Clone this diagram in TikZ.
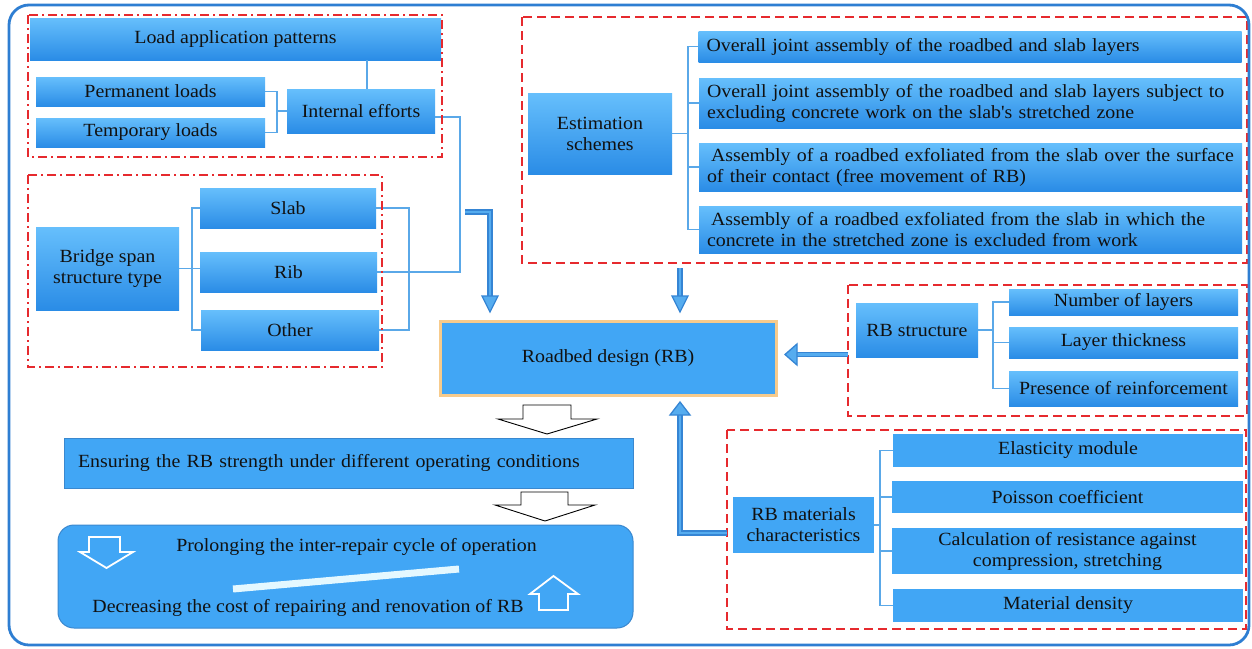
\documentclass[tikz,border=0pt]{standalone}
\usepackage{fontspec}
\setmainfont{Liberation Serif}[FakeStretch=1.07, Ligatures=TeXOff]
\definecolor{framec}{HTML}{2E7ED2}
\definecolor{boxtop}{HTML}{66BFFC}
\definecolor{boxbot}{HTML}{2A8CE6}
\definecolor{boxflat}{HTML}{41A6F5}
\definecolor{brkc}{HTML}{5AA8E8}
\definecolor{redc}{HTML}{E62A2E}
\definecolor{arrc}{HTML}{3585D4}
\definecolor{arrin}{HTML}{55ACEF}
\definecolor{rbedge}{HTML}{F7CB8C}
\definecolor{botedge}{HTML}{3A88CF}
\definecolor{barc}{HTML}{E4F8FF}
\definecolor{txt}{HTML}{111111}
\begin{document}
\begin{tikzpicture}[x=1pt,y=-1pt,
  every node/.style={font=\fontsize{18.6}{21}\selectfont, text=txt},
  gbox/.style={top color=boxtop, bottom color=boxbot, draw=none, inner sep=0pt, align=center},
  flatbox/.style={fill=boxflat, draw=none, inner sep=0pt, align=center},
  lbox/.style={top color=boxtop, bottom color=boxbot, draw=none, inner xsep=8pt, inner ysep=0pt, align=left, text width=527pt},
  brk/.style={draw=brkc, line width=1.8pt},
  grpdash/.style={draw=redc, line width=2.2pt, dash pattern=on 9pt off 5pt},
  grpdd/.style={draw=redc, line width=2.2pt, dash pattern=on 9pt off 4pt on 2pt off 4pt},
  barrow/.style={draw=arrc, double=arrin, double distance=2.6pt, line width=1.3pt},
  bhead/.style={fill=arrin, draw=arrc, line width=1.3pt, line join=miter},
  hollow/.style={fill=white, draw=black, line width=0.9pt, line join=miter},
  whollow/.style={draw=white, line width=1.8pt, line join=miter}]
\useasboundingbox (0,0) rectangle (1252,648);
\fill[white] (0,0) rectangle (1252,648);

% ---------- group 1 ----------
\node[gbox, minimum width=411pt, minimum height=42pt] (lap) at (235.5,39) {Load application patterns};
\node[gbox, minimum width=229pt, minimum height=29pt] (perm) at (150.5,91.5) {Permanent loads};
\node[gbox, minimum width=229pt, minimum height=29pt] (temp) at (150.5,132.5) {Temporary loads};
\node[gbox, minimum width=148pt, minimum height=44pt] (ie) at (361,111) {Internal efforts};

% ---------- group 2 ----------
\node[gbox, minimum width=143pt, minimum height=83pt] (bst) at (107.5,268.5) {Bridge span\\structure type};
\node[gbox, minimum width=176pt, minimum height=40pt] (slab) at (288,208) {Slab};
\node[gbox, minimum width=177pt, minimum height=40pt] (rib) at (288.5,272) {Rib};
\node[gbox, minimum width=178pt, minimum height=40pt] (other) at (290,330) {Other};

% ---------- estimation ----------
\node[gbox, minimum width=144pt, minimum height=81pt] (es) at (600,133.5) {Estimation\\schemes};
\node[lbox, minimum height=31pt] (e1) at (970,46.5) {Overall joint assembly of the roadbed and slab layers};
\node[lbox, minimum height=50pt] (e2) at (970.5,103) {Overall joint assembly of the roadbed and slab layers subject to\\excluding concrete work on the slab's stretched zone};
\node[lbox, minimum height=48pt] (e3) at (970.5,167) {\hspace{4pt}Assembly of a roadbed exfoliated from the slab over the surface\\of their contact (free movement of RB)};
\node[lbox, minimum height=47pt] (e4) at (970.5,229.5) {\hspace{4pt}Assembly of a roadbed exfoliated from the slab in which the\\concrete in the stretched zone is excluded from work};

% ---------- RB structure ----------
\node[gbox, minimum width=122pt, minimum height=54pt] (rbs) at (917,330) {RB structure};
\node[gbox, minimum width=229pt, minimum height=26pt] (n1) at (1123.5,302) {Number of layers};
\node[gbox, minimum width=229pt, minimum height=31pt] (n2) at (1123.5,342.5) {Layer thickness};
\node[gbox, minimum width=229pt, minimum height=35pt] (n3) at (1123.5,388.5) {Presence of reinforcement};

% ---------- RB materials ----------
\node[flatbox, minimum width=141pt, minimum height=56pt] (rbm) at (803.5,525) {RB materials\\characteristics};
\node[flatbox, minimum width=350pt, minimum height=33pt] (m1) at (1068,450.5) {Elasticity module};
\node[flatbox, minimum width=351pt, minimum height=32pt] (m2) at (1067.5,497) {Poisson coefficient};
\node[flatbox, minimum width=351pt, minimum height=46pt] (m3) at (1067.5,551) {Calculation of resistance against\\compression, stretching};
\node[flatbox, minimum width=350pt, minimum height=33pt] (m4) at (1068,605.5) {Material density};

% ---------- centre ----------
\node[flatbox, draw=rbedge, line width=3pt, minimum width=336pt, minimum height=74pt] (rb) at (608,358) {Roadbed design (RB)};
\node[flatbox, draw=botedge, line width=0.6pt, minimum width=569pt, minimum height=50pt, inner xsep=14pt, text width=541pt, align=left] (ens) at (348.5,463) {Ensuring the RB strength under different operating conditions};
\node[flatbox, draw=botedge, line width=1pt, rounded corners=16pt, minimum width=575pt, minimum height=103pt] (bot) at (345.5,576.5) {};
\node (pro) at (356.5,547) {Prolonging the inter-repair cycle of operation};
\node (dec) at (308,608) {Decreasing the cost of repairing and renovation of RB};
\draw[line width=7pt, barc] (233,589) -- (459,569);

% ---------- brackets / connectors ----------
\coordinate (iee) at (435,117);
\coordinate (ribj) at (460,272);
\coordinate (rj) at (409,208);
\draw[brk] ([xshift=6pt]ie.north) -- ([xshift=6pt]ie.north |- lap.south);
\draw[brk] (perm.east) -- ++(12,0) |- (temp.east);
\draw[brk] (ie.west) -- ++(-10,0);
\draw[brk] (slab.west) -- ++(-8,0) |- (other.west);
\draw[brk] (bst.east) -- (bst.east -| rib.west);
\draw[brk] (slab.east) -- (rj) |- (other.east);
\draw[brk] (rib.east) -- (ribj) |- (iee);
\draw[brk] (e1.west) -- ++(-10,0) |- (e4.west);
\draw[brk] (e2.west) -- ++(-10,0);
\draw[brk] (e3.west) -- ++(-10,0);
\draw[brk] (es.east) -- ++(16,0);
\draw[brk] (n1.west) -- ++(-16,0) |- (n3.west);
\draw[brk] (n2.west) -- ++(-16,0);
\draw[brk] (rbs.east) -- ++(15,0);
\draw[brk] (m1.west) -- ++(-13,0) |- (m4.west);
\draw[brk] (m2.west) -- ++(-13,0);
\draw[brk] (m3.west) -- ++(-13,0);
\draw[brk] (rbm.east) -- ++(6,0);

% ---------- red groups ----------
\draw[grpdd] (28,15) rectangle (442,157);
\draw[grpdd] (28,175) rectangle (382,367);
\draw[grpdash] (522,17) rectangle (1247,263);
\draw[grpdash] (848,285) rectangle (1247,416);
\draw[grpdash] (727,430) rectangle (1246,629);

% ---------- blue arrows ----------
\coordinate (aAs) at (465,212);
\coordinate (aBs) at (680,268);
\coordinate (aCs) at (848,354.5);
\coordinate (aDs) at (727,533);
\draw[barrow] (aAs) -- (490,212) -- (490,296);
\draw[bhead] (482,296) -- (498,296) -- (490,312) -- cycle;
\draw[barrow] (aBs) -- (680,296);
\draw[bhead] (672,296) -- (688,296) -- (680,312) -- cycle;
\draw[barrow] (aCs) -- (797,354.5);
\draw[bhead] (797,344) -- (797,365) -- (785,354.5) -- cycle;
\draw[barrow] (aDs) -- (680,533) -- (680,415);
\draw[bhead] (670,415) -- (690,415) -- (680,402) -- cycle;

% ---------- hollow arrows ----------
\draw[hollow] (523,405) -- (571,405) -- (571,419) -- (597,419) -- (547,434) -- (498,419) -- (523,419) -- cycle;
\draw[hollow] (521,492) -- (568,492) -- (568,505) -- (595,505) -- (545,521) -- (495,505) -- (521,505) -- cycle;
\draw[whollow] (89,537) -- (120,537) -- (120,552) -- (133,552) -- (106.5,568) -- (80,552) -- (89,552) -- cycle;
\draw[whollow] (539,610) -- (568,610) -- (568,594) -- (578,594) -- (553.5,576) -- (530,594) -- (539,594) -- cycle;

% ---------- outer frame ----------
\draw[framec, line width=2.8pt, rounded corners=20pt] (9,5) rectangle (1249,645);
\end{tikzpicture}
\end{document}
